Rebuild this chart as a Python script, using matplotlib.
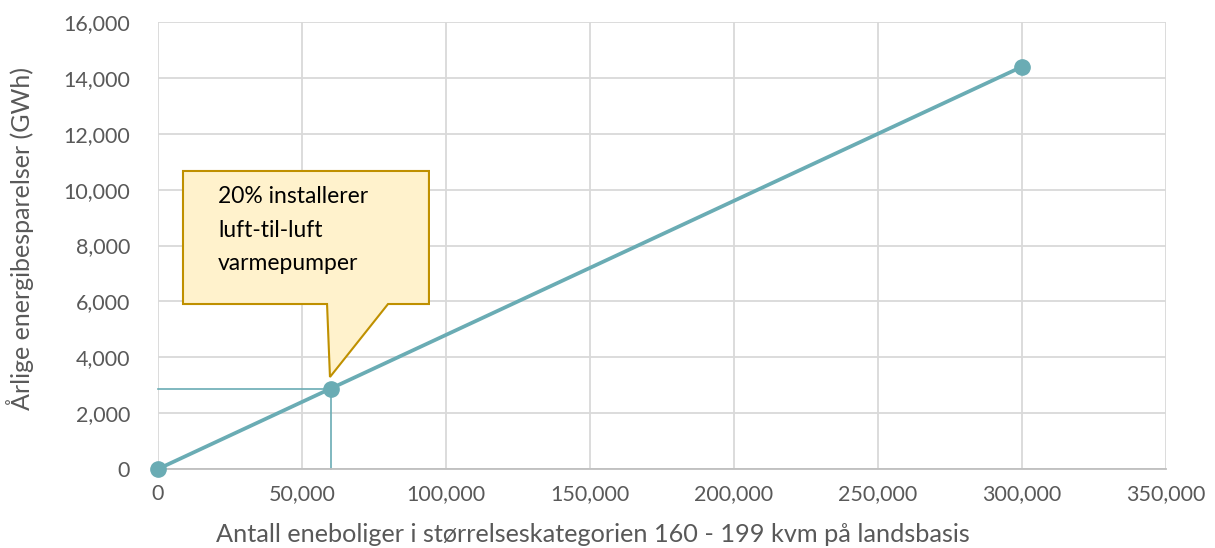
import matplotlib
matplotlib.use("Agg")
import matplotlib.pyplot as plt
from matplotlib.patches import Polygon
from matplotlib.ticker import FuncFormatter, MultipleLocator

# Data
x_values = [0, 60000, 300000]
y_values = [0, 2880, 14400]
highlight_x = 60000
highlight_y = 2880
callout_text = "20% installerer\nluft-til-luft\nvarmepumper"
xlabel = "Antall eneboliger i størrelseskategorien 160 - 199 kvm på landsbasis"
ylabel = "Årlige energibesparelser (GWh)"

plt.rcParams['font.family'] = ['Lato', 'DejaVu Sans']

line_color = "#6aacb4"
text_gray = "#595959"
grid_gray = "#d9d9d9"

fig = plt.figure(figsize=(12.15, 5.48), dpi=100)
ax = fig.add_axes([158/1215, 1-469/548, (1166-158)/1215, (469-22)/548])

ax.set_xlim(0, 350000)
ax.set_ylim(0, 16000)
ax.xaxis.set_major_locator(MultipleLocator(50000))
ax.yaxis.set_major_locator(MultipleLocator(2000))
fmt = FuncFormatter(lambda v, p: f"{int(v):,}")
ax.xaxis.set_major_formatter(fmt)
ax.yaxis.set_major_formatter(fmt)
ax.grid(True, color=grid_gray, linewidth=1.3, zorder=0)
ax.set_axisbelow(True)
for s in ['top', 'right', 'left']:
    ax.spines[s].set_visible(False)
ax.spines['bottom'].set_color("#bfbfbf")
ax.spines['bottom'].set_linewidth(1.3)
ax.tick_params(axis='both', length=0, labelsize=15.5, labelcolor=text_gray)
ax.tick_params(axis='x', pad=11)
ax.tick_params(axis='y', pad=20)

# drop lines
ax.plot([0, highlight_x], [highlight_y, highlight_y], color=line_color, linewidth=1.2, zorder=2, clip_on=False)
ax.plot([highlight_x, highlight_x], [0, highlight_y], color=line_color, linewidth=1.2, zorder=2, clip_on=False)

ax.plot(x_values, y_values, color=line_color, linewidth=2.7, marker='o', markersize=11,
        zorder=3, clip_on=False)

# callout (axes fraction)
L, R, T, B = 0.0248, 0.2688, 0.6667, 0.3691
p1, p2, tip = 0.1677, 0.2282, (0.1706, 0.2058)
poly = Polygon([(L, T), (R, T), (R, B), (p2, B), tip, (p1, B), (L, B)], closed=True,
               transform=ax.transAxes, facecolor="#fff2cc", edgecolor="#bf9000",
               linewidth=1.5, zorder=4)
ax.add_patch(poly)
ax.text(0.0595, 0.632, callout_text, transform=ax.transAxes, fontsize=16.5, color="#000000",
        va='top', ha='left', linespacing=1.72, zorder=5)

fig.text(20/1215, 1-238/548, ylabel, fontsize=18, color=text_gray, ha='center', va='center',
         rotation=90)
fig.text(593/1215, 1-534/548, xlabel, fontsize=18.2, color=text_gray, ha='center', va='center')

fig.savefig("out.png", dpi=100)
